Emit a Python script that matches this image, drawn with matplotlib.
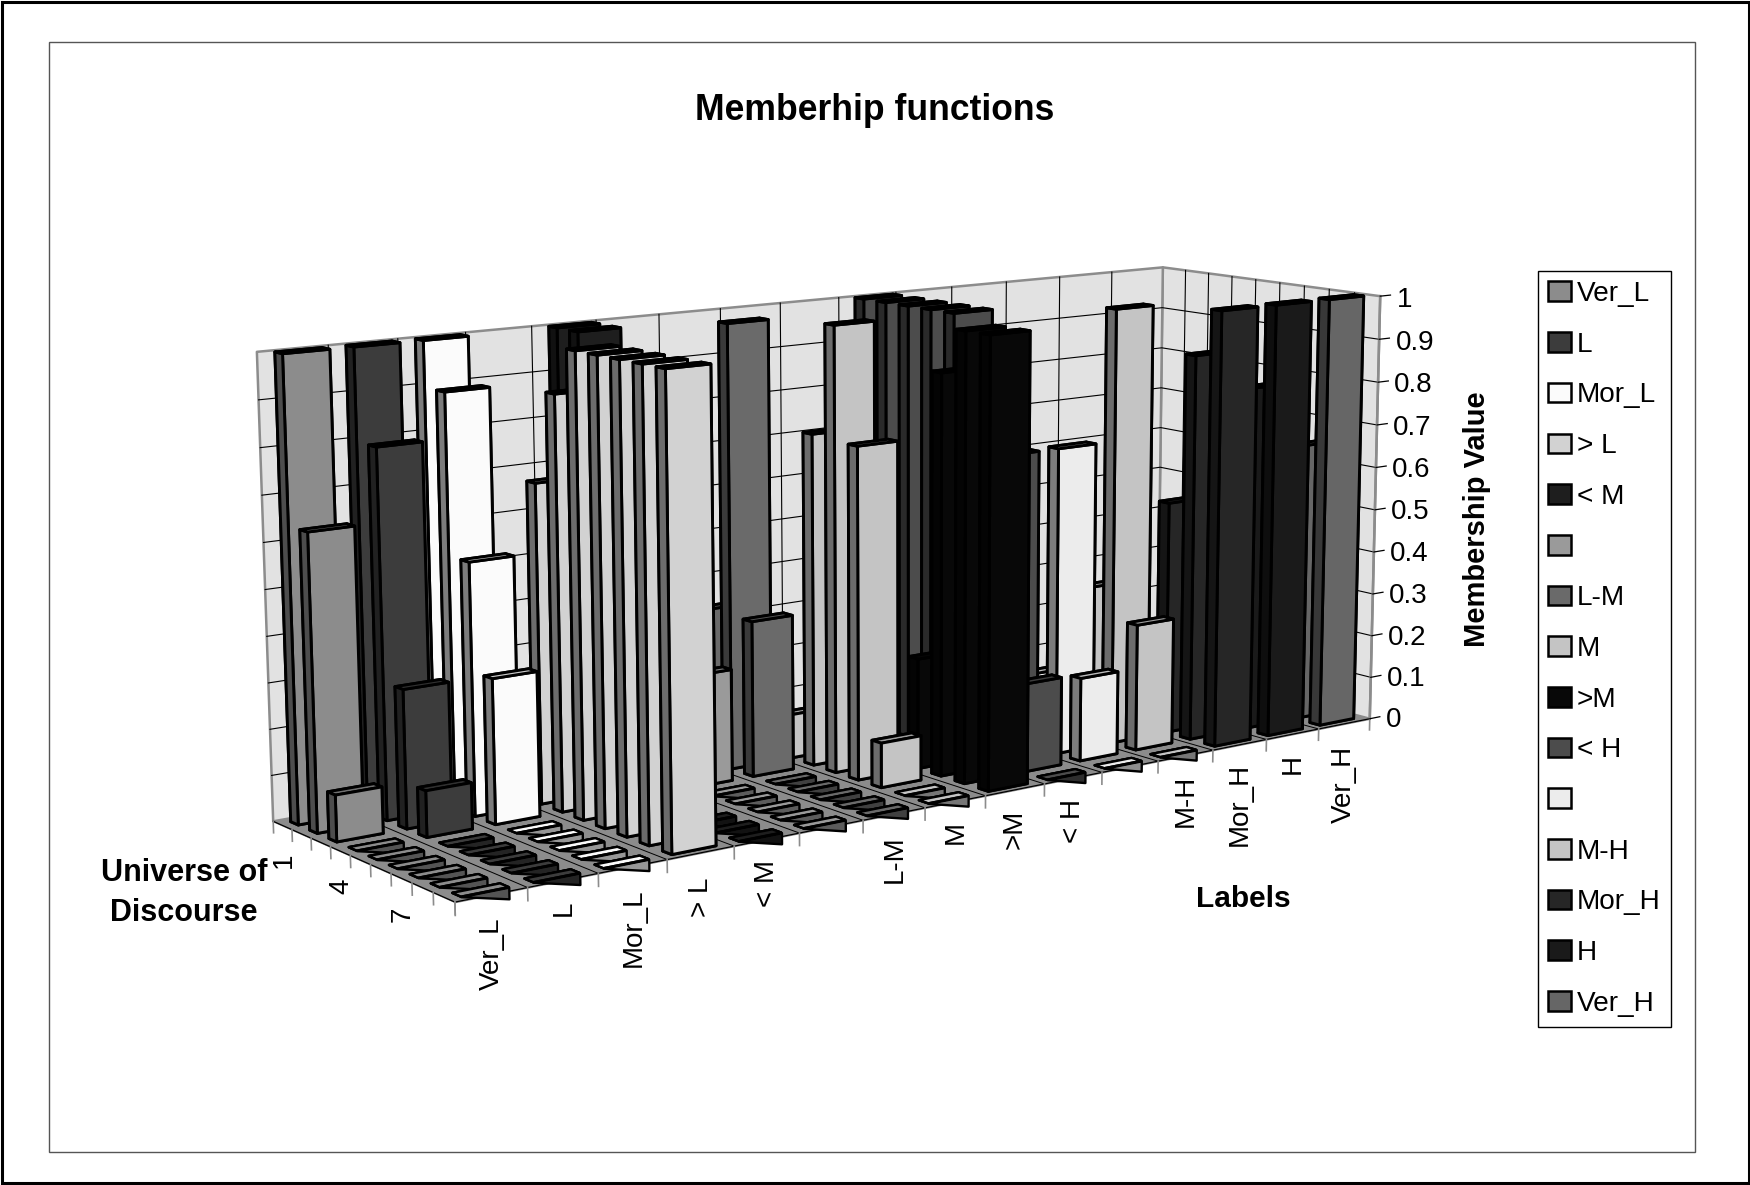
import numpy as np
import matplotlib
matplotlib.use('Agg')
import matplotlib.pyplot as plt
from matplotlib.colors import to_rgb
from matplotlib.patches import Patch, Rectangle
from mpl_toolkits.mplot3d import proj3d
from mpl_toolkits.mplot3d.art3d import Poly3DCollection

plt.rcParams['font.family'] = ['Liberation Sans', 'DejaVu Sans']

categories = ['Ver_L', 'L', 'Mor_L', '> L', '< M', ' ', 'L-M', 'M', '>M', '< H', ' ', 'M-H', 'Mor_H', 'H', 'Ver_H']
colors = ['#8c8c8c', '#3c3c3c', '#fbfbfb', '#d2d2d2', '#1e1e1e', '#9a9a9a', '#6a6a6a', '#c4c4c4', '#080808',
          '#4c4c4c', '#ececec', '#c4c4c4', '#262626', '#1a1a1a', '#666666']
universe = [1, 2, 3, 4, 5, 6, 7, 8, 9]
ver_l = [1, .64, .1, 0, 0, 0, 0, 0, 0]
l = [1, .8, .3, .1, 0, 0, 0, 0, 0]
mor_l = [1, .9, .55, .315, 0, 0, 0, 0, 0]
more_l = [0, 0, .7, .9, 1, 1, 1, 1, 1]
less_m = [1, 1, .85, .6, .35, .18, 0, 0, 0]
blank1 = [.8, .7, .5, .25, 0, 0, 0, 0, 0]
l_m = [0, .35, 1, .35, 0, 0, 0, 0, 0]
m = [0, 0, .1, .75, 1, .745, .1, 0, 0]
more_m = [0, 0, 0, 0, 0, .25, .9, 1, 1]
less_h = [1, 1, 1, 1, 1, .9, .7, .2, 0]
blank2 = [0, 0, 0, 0, 0, .17, .7, .19, 0]
m_h = [0, 0, 0, 0, 0, .35, 1, .29, 0]
mor_h = [0, 0, 0, 0, 0, 0, .54, .89, 1]
h = [0, 0, 0, 0, 0, 0, 0, .8, 1]
ver_h = [0, 0, 0, 0, 0, 0, 0, .65, 1]
series = [ver_l, l, mor_l, more_l, less_m, blank1, l_m, m, more_m, less_h, blank2, m_h, mor_h, h, ver_h]
ticks = [0, .1, .2, .3, .4, .5, .6, .7, .8, .9, 1]
cat_pad = [19, 17, 19, 21, 18, 20, 19, 17, 18, 19, 20, 18, 17, 19, 21]

W, H = 1750, 1185
nc, nr = len(categories), len(universe)
fig = plt.figure(figsize=(W/100, H/100), dpi=100)

# camera found by fitting the box corners of the chart
S, x0, y0 = 1224.3, 221.7, 8.8
ax = fig.add_axes([x0/W, y0/H, S/W, S/H], projection='3d', computed_zorder=False)
ax.patch.set_alpha(0)
ax.set_axis_off()
ax.view_init(10.905, -126.696, 0.190)
ax.set_box_aspect((2.4879, 0.7509, 1))
ax.set_proj_type('persp', focal_length=0.5433)

wall = '#e2e2e2'
floor = '#8c8c8c'
frame = '#8c8c8c'
ax.add_collection3d(Poly3DCollection([[(0, nr, 0), (nc, nr, 0), (nc, nr, 1), (0, nr, 1)], [(nc, nr, 0), (nc, 0, 0), (nc, 0, 1), (nc, nr, 1)]],
                                     facecolors=wall, edgecolors=frame, linewidths=1.8, zorder=1))
ax.add_collection3d(Poly3DCollection([[(0, 0, 0), (nc, 0, 0), (nc, nr, 0), (0, nr, 0)]], facecolors=floor, edgecolors=frame, linewidths=1, zorder=1))
for t in ticks[1:-1]:
    ax.plot([0, nc, nc], [nr, nr, 0], [t, t, t], color='k', lw=.8, zorder=2)
for c in range(1, nc):
    ax.plot([c, c], [nr, nr], [0, 1], color='k', lw=.8, zorder=2)
    ax.plot([c, c], [0, nr], [0, 0], color='k', lw=.7, zorder=2)
for r in range(1, nr):
    ax.plot([nc, nc], [r, r], [0, 1], color='k', lw=.8, zorder=2)
# axis lines and ticks
ax.plot([nc, nc], [0, 0], [0, 1], color=frame, lw=1.8, zorder=2)
ax.plot([0, nc], [0, 0], [0, 0], color='k', lw=.9, zorder=2)
ax.plot([0, 0], [0, nr], [0, 0], color='k', lw=.9, zorder=2)
for c in range(nc+1):
    ax.plot([c, c], [0, 0], [0, -.027], color=frame, lw=1.2, zorder=2)
for r in range(nr+1):
    ax.plot([0, 0], [r, r], [0, -.025], color=frame, lw=1.2, zorder=2)
for t in ticks:
    ax.plot([nc, nc+.2], [0, 0], [t, t], color='k', lw=.9, zorder=2)


def left_face(col):
    rgb = to_rgb(col)
    if rgb[0] > .9:
        return '#7c7c7c'
    if rgb[0] > .7:
        return '#6c6c6c'
    return tuple(np.array(rgb)*.55)


bw, bd = .66, .4
z = 10
for i in range(nr):
    for c in range(nc-1, -1, -1):
        col = colors[c]
        v = series[c][i]
        xb, yb = c+.5-bw/2, nr-i-.5-bd/2
        top = tuple(np.array(to_rgb(col))*(.8 if v > 0 else 1))
        faces = [col, top, col, col, left_face(col), col]
        # empty cells: flat slab with the small wedge in front of it
        if v == 0:
            ax.add_collection3d(Poly3DCollection([[(xb, yb, 0), (xb+bw, yb, 0), (xb+bw, yb, -.024)]], facecolors=tuple(np.array(to_rgb(col))*.6),
                                                 edgecolors='k', linewidths=1.7, zorder=z))
            z += 1
        ax.bar3d(xb, yb, 0, bw, bd, v, color=faces, edgecolor='k', linewidth=1.7 if v == 0 else 2.1, shade=False, zorder=z)
        z += 1
ax.set_xlim3d(0, nc, view_margin=0)
ax.set_ylim3d(0, nr, view_margin=0)
ax.set_zlim3d(0, 1, view_margin=0)


def label3d(x, y, zv, s, **kw):
    u, v, _ = proj3d.proj_transform(x, y, zv, ax.get_proj())
    ax.text2D(u, v, s, transform=ax.transData, fontsize=20, **kw)


for t in ticks:
    label3d(nc+.32, 0, t-.012, '%g' % t, ha='left', va='center')
for c, name in enumerate(categories):
    if name.strip():
        label3d(c+.5, 0, -cat_pad[c]*1.116/450, name, rotation=90, ha='center', va='top')
for i in (0, 3, 6):
    label3d(0, nr-i-.5, -.075, str(universe[i]), rotation=90, ha='center', va='center')


def px(x, y):
    return x/W, 1-y/H


fig.add_artist(Rectangle((1.5/W, 2.5/H), (W-3)/W, (H-4)/H, fc='none', ec='k', lw=2.2, transform=fig.transFigure))
fig.add_artist(Rectangle(px(49, 1152), 1646/W, 1110/H, fc='none', ec='#555555', lw=1, transform=fig.transFigure))
fig.text(*px(875, 110), 'Memberhip functions', fontsize=25.6, fontweight='bold', ha='center', va='center')
fig.text(*px(184, 893), 'Universe of\nDiscourse', fontsize=22, fontweight='bold', ha='center', va='center', linespacing=1.4)
fig.text(*px(1243, 899), 'Labels', fontsize=21.5, fontweight='bold', ha='center', va='center')
fig.text(*px(1477, 519), 'Membership Value', fontsize=21, fontweight='bold', ha='center', va='center', rotation=90)
handles = [Patch(fc=col, ec='k', lw=1.8) for col in colors]
fig.legend(handles, categories, loc='upper left', bbox_to_anchor=px(1538, 271), bbox_transform=fig.transFigure, fontsize=20.2,
           frameon=True, fancybox=False, edgecolor='k', framealpha=1, borderaxespad=0, handlelength=.8, handleheight=.7,
           handletextpad=.22, labelspacing=.88, borderpad=.36)
fig.savefig('out.png', dpi=100)
